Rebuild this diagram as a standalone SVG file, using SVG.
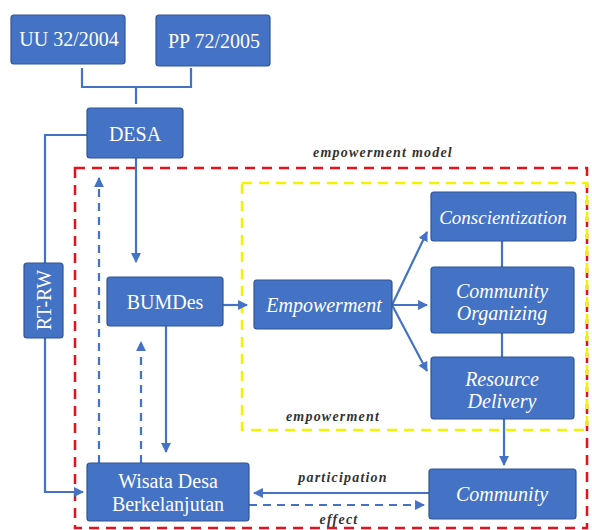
<svg xmlns="http://www.w3.org/2000/svg" width="592" height="530" viewBox="0 0 592 530">
<defs>
<style>
.box{fill:#4472C4;stroke:#2F5597;stroke-width:1.2}
.t{font-family:"Liberation Serif","DejaVu Serif",serif;fill:#fff;font-size:20px;text-anchor:middle}
.i{font-style:italic}
.ln{fill:none;stroke:#4472C4;stroke-width:2.2}
.dl{fill:none;stroke:#4472C4;stroke-width:2.2;stroke-dasharray:8 6}
.lab{font-family:"Liberation Serif","DejaVu Serif",serif;font-style:italic;font-weight:bold;fill:#333;font-size:14px;letter-spacing:1.2px;text-anchor:middle}
</style>
<marker id="ah" viewBox="0 0 10 10" refX="9" refY="5" markerWidth="4.5" markerHeight="4.5" orient="auto-start-reverse" markerUnits="strokeWidth">
<path d="M0,0 L10,5 L0,10 z" fill="#4472C4"/>
</marker>
</defs>
<rect width="592" height="530" fill="#fff"/>
<g id="regions">
<rect x="75" y="168" width="512" height="360" fill="none" stroke="#E8101A" stroke-width="2.5" stroke-dasharray="10 7"/>
<rect x="242" y="183" width="345" height="247" fill="none" stroke="#F5F200" stroke-width="2.5" stroke-dasharray="10 7"/>
<text class="lab" x="383" y="157">empowerment model</text>
<text class="lab" x="333" y="421">empowerment</text>
</g>
<g id="connectors">
<path class="ln" d="M82,68 V87 H191 V68 M136,87 V104"/>
<path class="ln" d="M136,158 V262" marker-end="url(#ah)"/>
<path class="ln" d="M87,135 H45 V492 H83" marker-end="url(#ah)"/>
<path class="dl" d="M99,463 V178" marker-end="url(#ah)"/>
<path class="dl" d="M141,463 V342" marker-end="url(#ah)"/>
<path class="ln" d="M166,326 V452" marker-end="url(#ah)"/>
<path class="ln" d="M223,305 H247" marker-end="url(#ah)"/>
<path class="ln" d="M392,305 L427,232" marker-end="url(#ah)"/>
<path class="ln" d="M392,305 H427" marker-end="url(#ah)"/>
<path class="ln" d="M392,305 L427,371" marker-end="url(#ah)"/>
<path class="ln" d="M502,241 V268 M502,333 V357"/>
<path class="ln" d="M504,419 V465" marker-end="url(#ah)"/>
<path class="ln" d="M429,493 H254" marker-end="url(#ah)"/>
<path class="dl" d="M249,505 H424" marker-end="url(#ah)"/>
<text class="lab" x="343" y="482">participation</text>
<text class="lab" x="339" y="524">effect</text>
</g>
<g id="uu"><rect class="box" x="11" y="15" width="114" height="49" rx="3"/><text class="t" x="69" y="46">UU 32/2004</text></g>
<g id="pp"><rect class="box" x="156" y="15" width="114" height="51" rx="3"/><text class="t" x="214" y="48">PP 72/2005</text></g>
<g id="desa"><rect class="box" x="87" y="108" width="96" height="50" rx="3"/><text class="t" x="135" y="141">DESA</text></g>
<g id="rtrw"><rect class="box" x="24" y="263" width="39" height="75" rx="3"/><text class="t" transform="translate(51,300) rotate(-90)">RT-RW</text></g>
<g id="bumdes"><rect class="box" x="107" y="277" width="116" height="49" rx="3"/><text class="t" x="165" y="309">BUMDes</text></g>
<g id="empowerment"><rect class="box" x="254" y="280" width="138" height="49" rx="3"/><text class="t i" x="324" y="312">Empowerment</text></g>
<g id="conscientization"><rect class="box" x="431" y="192" width="145" height="49" rx="3"/><text class="t i" x="503" y="224" style="font-size:19px">Conscientization</text></g>
<g id="organizing"><rect class="box" x="431" y="267" width="143" height="66" rx="3"/><text class="t i" x="502" y="298">Community</text><text class="t i" x="502" y="320">Organizing</text></g>
<g id="resource"><rect class="box" x="431" y="357" width="143" height="62" rx="3"/><text class="t i" x="502" y="386">Resource</text><text class="t i" x="502" y="408">Delivery</text></g>
<g id="community"><rect class="box" x="429" y="469" width="147" height="50" rx="3"/><text class="t i" x="502" y="501">Community</text></g>
<g id="wisata"><rect class="box" x="87" y="463" width="162" height="58" rx="3"/><text class="t" x="168" y="488">Wisata Desa</text><text class="t" x="168" y="511">Berkelanjutan</text></g>
</svg>
